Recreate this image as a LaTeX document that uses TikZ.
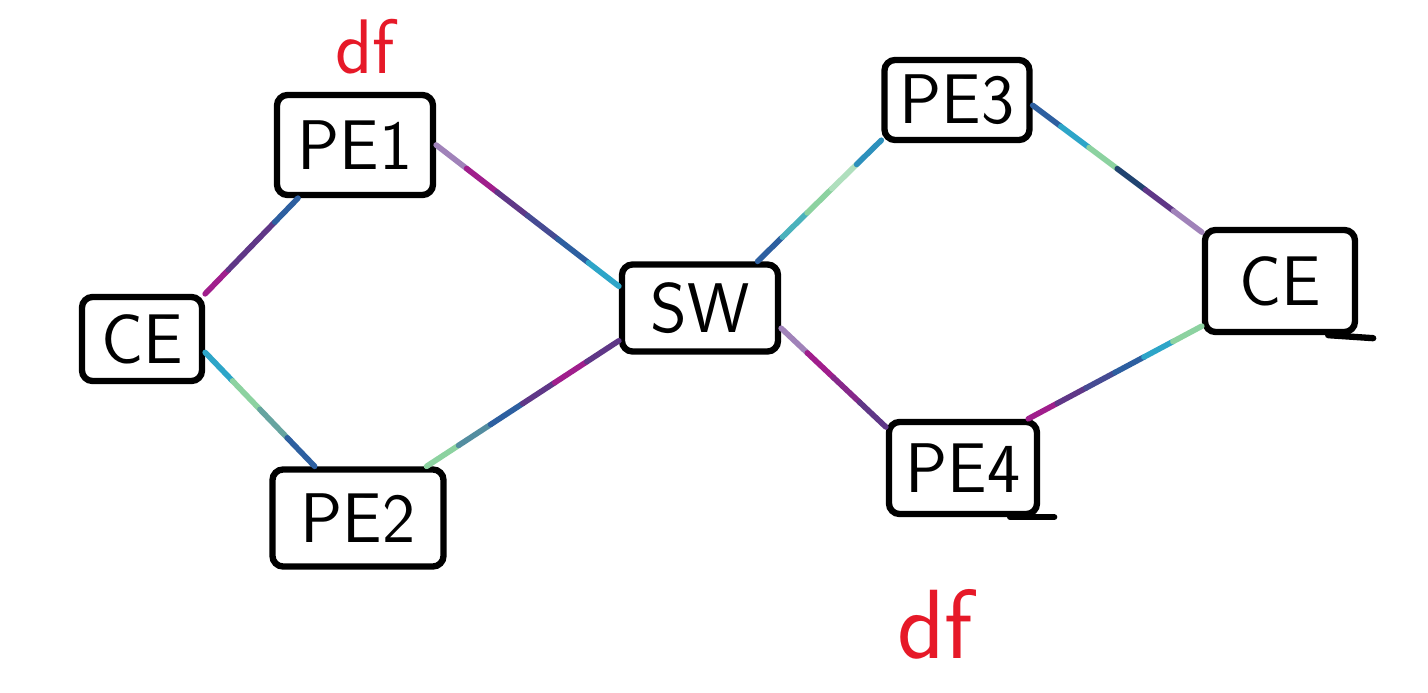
\documentclass[tikz,border=0pt]{standalone}
\usetikzlibrary{calc}
\definecolor{mag}{RGB}{160,30,140}
\definecolor{vio}{RGB}{95,55,135}
\definecolor{blu}{RGB}{45,95,160}
\definecolor{cya}{RGB}{45,165,200}
\definecolor{grn}{RGB}{140,210,160}
\definecolor{lav}{RGB}{160,130,185}
\definecolor{dfred}{RGB}{230,25,40}
\tikzset{
  dev/.style={draw, line width=1.8pt, rounded corners=3pt, font=\sffamily\fontsize{20}{24}\selectfont},
  link/.style={line width=1.6pt, line cap=round},
  note/.style={text=dfred, font=\sffamily\fontsize{22}{26}\selectfont}
}
% coloured link, one segment per colour
\newcommand{\colink}[3]{%
  \foreach \c [count=\k] in {#3} {\xdef\nseg{\k}}%
  \foreach \c [count=\k] in {#3} {%
    \pgfmathsetmacro\ta{(\k-1)/\nseg}%
    \pgfmathsetmacro\tb{\k/\nseg}%
    \draw[link, draw=\c] ($(#1)!\ta!(#2)$) -- ($(#1)!\tb!(#2)$);
  }}
\begin{document}
\begin{tikzpicture}
  \useasboundingbox (0,0) rectangle (14.28,6.92);
  \node[dev, minimum width=1.56cm, minimum height=1.0cm] (pe1) at (3.55,5.47) {PE1};
  \node[dev, minimum width=1.2cm, minimum height=0.84cm] (ce) at (1.42,3.53) {CE};
  \node[dev, minimum width=1.71cm, minimum height=0.97cm] (pe2) at (3.58,1.74) {PE2};
  \node[dev, minimum width=1.56cm, minimum height=0.87cm] (sw) at (7.00,3.84) {SW};
  \node[dev, minimum width=1.45cm, minimum height=0.8cm] (pe3) at (9.57,5.92) {PE3};
  \node[dev, minimum width=1.48cm, minimum height=0.92cm] (pe4) at (9.63,2.24) {PE4};
  \node[dev, minimum width=1.5cm, minimum height=1.02cm] (ce2) at (12.80,4.11) {CE};
  % bottom strokes running past the box
  \draw[line width=1.8pt, line cap=round] ($(pe4.south east)+(-0.3,0)$) -- ++(0.44,0);
  \draw[line width=1.8pt, line cap=round] ($(ce2.south east)+(-0.3,0)$) -- ++(0.45,-0.03);
  % red labels
  \node[note] (df1) at (3.65,6.45) {df};
  \node[note, font=\sffamily\fontsize{28}{32}\selectfont] (df2) at (9.35,0.68) {df};
  % links
  \colink{ce.north east}{pe1.-137}{mag,vio,vio,blu}
  \colink{ce.-12}{pe2.130}{cya,grn,grn!60!blu,blu}
  \colink{pe1.0}{sw.165}{lav,mag,vio,vio!50!blu,blu,cya}
  \colink{pe2.37}{sw.202}{grn,blu!60!grn,blu,vio,mag,vio}
  \colink{sw.39}{pe3.208}{blu,cya!70!grn,grn,grn!70!white,cya!70!blu}
  \colink{sw.-14}{pe4.152}{lav,mag,mag!60!vio,vio}
  \colink{pe3.-4}{ce2.148}{blu,cya,grn,blu!70!black,vio,lav}
  \colink{pe4.37}{ce2.210}{mag,vio,vio!50!blu,blu,cya,grn}
\end{tikzpicture}
\end{document}
